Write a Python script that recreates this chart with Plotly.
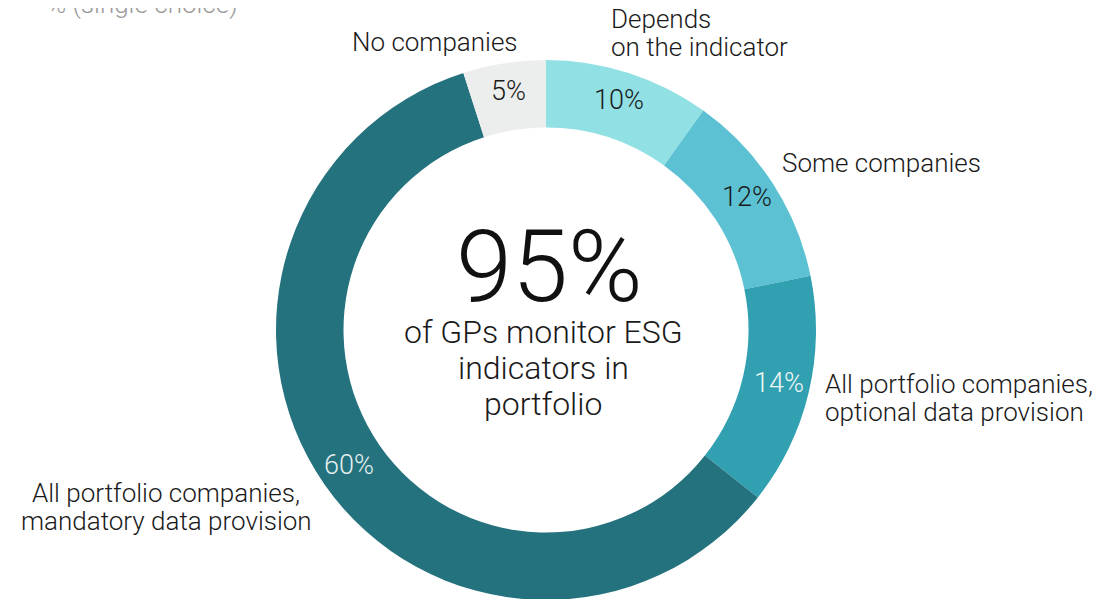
import math
import plotly.graph_objects as go

W, H = 1114, 599
OFF = 8  # page body margin shifts the figure by 8px

categories = [
    ["Depends", "on the indicator"],
    ["Some companies"],
    ["All portfolio companies,", "optional data provision"],
    ["All portfolio companies,", "mandatory data provision"],
    ["No companies"],
]
shares = [10, 12, 14, 60, 5]
colors = ["#91e0e4", "#5cc2d3", "#31a0b0", "#24727d", "#eceeed"]
pct_colors = ["#1a1a1a", "#1a1a1a", "#eef6f6", "#e4eeee", "#1a1a1a"]

headline = "95%"
subline = ["of GPs monitor ESG", "indicators in", "portfolio"]
subtitle = "% (single choice)"

FONT = "Roboto"
DARK = "#1a1a1a"


def px_x(x):
    return (x - OFF) / W


def px_y(y):
    return 1 - (y - OFF) / H


def text_at(x, y, text, size, color=DARK, xanchor="center", weight=300):
    fig.add_annotation(
        x=px_x(x), y=px_y(y), xref="paper", yref="paper", text=text,
        showarrow=False, xanchor=xanchor, yanchor="middle",
        font=dict(family=FONT, size=size, color=color, weight=weight),
    )


fig = go.Figure()
fig.add_trace(go.Pie(
    labels=[" ".join(c) for c in categories],
    values=shares,
    sort=False,
    direction="clockwise",
    rotation=0,
    hole=0.75,
    marker=dict(colors=colors, line=dict(width=0)),
    textinfo="none",
    showlegend=False,
    hoverinfo="label+value",
    domain=dict(x=[px_x(276), px_x(816)], y=[px_y(600), px_y(60)]),
))

# percentage labels on the ring, placed on each slice's bisector
cx, cy, r_txt = 546, 328, 240
total = sum(shares)
start = 0
for v, col in zip(shares, pct_colors):
    mid = (start + v / 2) / total * 2 * math.pi
    start += v
    text_at(cx + r_txt * math.sin(mid), cy - r_txt * math.cos(mid), f"{v}%", 27, col)

# outside category labels: (x px, first line y px, anchor)
label_pos = [
    (609, 19, "left"),
    (780, 163, "left"),
    (823, 384, "left"),
    (166, 493, "center"),
    (435, 42, "center"),
]
for lines, (x, y, xa) in zip(categories, label_pos):
    for i, line in enumerate(lines):
        text_at(x, y + i * 28, line, 26, xanchor=xa)

text_at(549, 266, headline, 101, "#111111")
for i, line in enumerate(subline):
    text_at(543, 332 + i * 36, line, 32)
text_at(45, 4, subtitle, 26, "#9a9a9a", xanchor="left")

fig.update_layout(
    width=W, height=H,
    margin=dict(l=0, r=0, t=0, b=0),
    paper_bgcolor="white",
    plot_bgcolor="white",
)

fig.write_html("out.html")
